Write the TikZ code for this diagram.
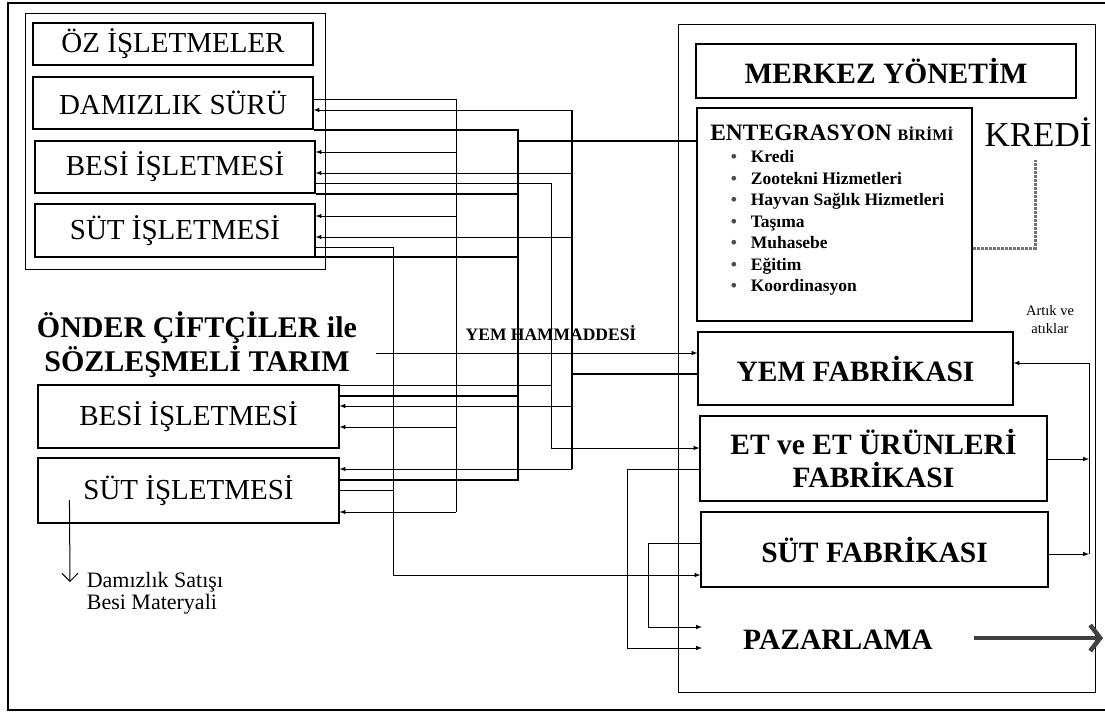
\documentclass[tikz,border=0pt]{standalone}
\usepackage{fontspec}
\setmainfont{Liberation Serif}
\usepackage{tikz}
\usetikzlibrary{arrows.meta}
\tikzset{> = latex, every picture/.style={line width=1pt},
  bus/.style={line width=2pt}}

\begin{document}
\begin{tikzpicture}[x=1pt,y=-1pt]
\useasboundingbox (0,0) rectangle (1105,713);
% frames
\draw[line width=1.5pt] (1105,3) -- (8,3) -- (8,710) -- (1105,710);
\draw (25,13) rectangle (325,269);
\draw (678,24) rectangle (1095,692);

% farms
\begin{scope}[every node/.style={rectangle,draw,line width=1.1pt,inner sep=0pt,font=\fontsize{29}{32}\selectfont}]
\node[minimum width=280,minimum height=42] (oz) at (173,44) {ÖZ İŞLETMELER};
\node[minimum width=280,minimum height=52] (dsuru) at (173,103) {DAMIZLIK SÜRÜ};
\node[minimum width=280,minimum height=52] (besi) at (175,167) {BESİ İŞLETMESİ};
\node[minimum width=280,minimum height=53] (sut) at (175,230.5) {SÜT İŞLETMESİ};
\node[minimum width=301,minimum height=63] (obesi) at (188.5,416.5) {BESİ İŞLETMESİ};
\node[minimum width=301,minimum height=65] (osut) at (188.5,490.5) {SÜT İŞLETMESİ};
\end{scope}
\node[font=\bfseries\fontsize{30}{34}\selectfont,align=center] (onder) at (197,345) {ÖNDER ÇİFTÇİLER ile\\SÖZLEŞMELİ TARIM};

% company
\begin{scope}[every node/.style={rectangle,draw,line width=1.1pt,inner sep=0pt,font=\bfseries\fontsize{29.5}{33}\selectfont}]
\node[minimum width=380,minimum height=54] (merkez) at (886,71) {MERKEZ YÖNETİM};
\node[minimum width=275,minimum height=213] (enteg) at (834.5,214.5) {};
\node[minimum width=315,minimum height=73] (yem) at (855.5,368.5) {YEM FABRİKASI};
\node[minimum width=347,minimum height=85,align=center] (et) at (873.5,458.5) {ET ve ET ÜRÜNLERİ\\FABRİKASI};
\node[minimum width=347,minimum height=75] (sutf) at (874.5,549.5) {SÜT FABRİKASI};
\end{scope}
\node[font=\bfseries\fontsize{23.5}{26}\selectfont] (entegtit) at (832,133) {ENTEGRASYON {\fontsize{16}{18}\selectfont BİRİMİ}};
\node[font=\bfseries\fontsize{17.5}{21.5}\selectfont,align=left,anchor=north west] (hizmet) at (727,147) {%
\makebox[20pt][l]{\textcolor{black!70}{\textbullet}}Kredi\\
\makebox[20pt][l]{\textcolor{black!70}{\textbullet}}Zootekni Hizmetleri\\
\makebox[20pt][l]{\textcolor{black!70}{\textbullet}}Hayvan Sağlık Hizmetleri\\
\makebox[20pt][l]{\textcolor{black!70}{\textbullet}}Taşıma\\
\makebox[20pt][l]{\textcolor{black!70}{\textbullet}}Muhasebe\\
\makebox[20pt][l]{\textcolor{black!70}{\textbullet}}Eğitim\\
\makebox[20pt][l]{\textcolor{black!70}{\textbullet}}Koordinasyon};
\node[font=\fontsize{35}{38}\selectfont] (kredi) at (1038,132) {KREDİ};
\node[font=\fontsize{14.5}{18}\selectfont,align=center] (artik) at (1050,320) {Artık ve\\atıklar};
\node[font=\bfseries\fontsize{29.5}{33}\selectfont] (pazar) at (838,640) {PAZARLAMA};
\node[font=\bfseries\fontsize{17.5}{20}\selectfont] (hamm) at (551,333) {YEM HAMMADDESİ};
\node[font=\fontsize{22}{21.5}\selectfont,align=left,anchor=west] (satis) at (83,593) {Damızlık Satışı\\Besi Materyali};

% damizlik -> besi, sut
\draw (dsuru.east |- 0,99) -- (456,99) -- (456,512);
\draw[->] (456,152) -- (besi.east |- 0,152);
\draw[->] (456,216) -- (sut.east |- 0,216);
\draw[->] (456,427) -- (obesi.east |- 0,427);
\draw[->] (456,512) -- (osut.east |- 0,512);

% entegrasyon birimi
\draw[bus] (dsuru.east |- 0,130) -- (518,130) -- (518,480) -- (osut.east |- 0,480);
\draw[bus] (enteg.west |- 0,141) -- (518,141);
\draw[bus] (besi.east |- 0,194) -- (518,194);
\draw[bus] (sut.east |- 0,257) -- (518,257);
\draw[bus] (obesi.east |- 0,396) -- (518,396);

% yem fabrikasi -> farms
\draw[bus] (yem.west |- 0,374) -- (572,374);
\draw[bus] (572,110) -- (572,469);
\draw[->] (572,110) -- (dsuru.east |- 0,110);
\draw[->] (572,173) -- (besi.east |- 0,173);
\draw[->] (572,237) -- (sut.east |- 0,237);
\draw[->] (572,406) -- (obesi.east |- 0,406);
\draw[->] (572,469) -- (osut.east |- 0,469);

% besi -> et fabrikasi
\draw (besi.east |- 0,183) -- (551,183) -- (551,448);
\draw (obesi.east |- 0,385) -- (551,385);
\draw[->] (551,448) -- (et.west |- 0,448);

% sut -> sut fabrikasi
\draw (sut.east |- 0,247) -- (393,247) -- (393,575);
\draw (osut.east |- 0,490) -- (393,490);
\draw[->] (393,575) -- (sutf.west |- 0,575);

% yem hammaddesi
\draw[->] ([xshift=15]onder.east |- 0,353) -- (yem.west |- 0,353);

% artik ve atiklar
\draw[->] (et.east |- 0,459) -- (1089,459);
\draw[->] (sutf.east |- 0,554) -- (1089,554);
\draw[->] (1089,554) -- (1089,363) -- (yem.east |- 0,363);

% pazarlama
\coordinate (pz1) at (702,627);
\coordinate (pz2) at (702,648);
\draw[->] (sutf.west |- 0,543) -- (648,543) -- (648,627) -- (pz1);
\draw[->] (et.west |- 0,469) -- (627,469) -- (627,648) -- (pz2);
\coordinate (pzout) at (1103,638);
\draw[line width=4.5pt,black!75,-{Straight Barb[length=10pt,width=26pt]}] ([xshift=37]pazar.east |- 0,638) -- (pzout);

% kredi
\coordinate (kr) at (1035,160);
\draw[line width=3pt,black!55,densely dotted] (enteg.east |- 0,248) -- (1035,248) -- (kr);

% damizlik satisi
\coordinate (ds) at (70,582);
\draw[-{Straight Barb[length=8pt,width=16pt]}] (osut.west |- 0,500) ++(32,0) -- (ds);
\end{tikzpicture}
\end{document}
